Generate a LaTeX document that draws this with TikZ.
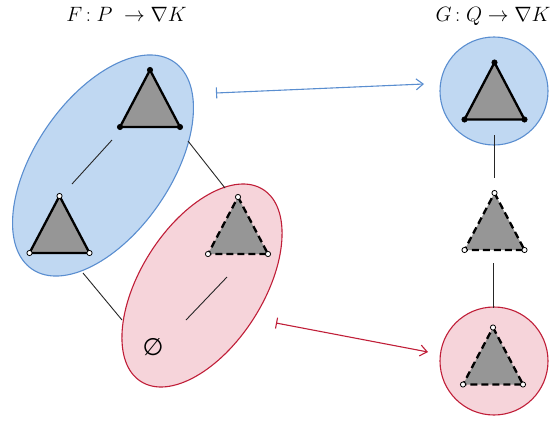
\documentclass[tikz,border=0pt]{standalone}
\usepackage{fontspec}
\newfontfamily\djv{DejaVu Sans}
\usetikzlibrary{arrows.meta}
\definecolor{bfill}{RGB}{192,216,242}
\definecolor{bline}{RGB}{90,142,208}
\definecolor{rfill}{RGB}{246,212,218}
\definecolor{rline}{RGB}{192,30,56}
\definecolor{tgray}{RGB}{150,150,150}
\tikzset{
  bluereg/.style={fill=bfill,draw=bline,line width=1.1pt},
  redreg/.style={fill=rfill,draw=rline,line width=1.1pt},
  link/.style={draw=black!85,line width=0.9pt},
  triedge/.style={line width=2.3pt,line join=round},
  dashedge/.style={dash pattern=on 7pt off 4pt},
  vdot/.style={draw=black,line width=0.8pt},
  maparrow/.style={line width=1.1pt,{Bar[width=11pt]}-{Straight Barb[length=7pt,width=11pt,line width=1.1pt]}},
  title/.style={font=\fontsize{20}{24}\selectfont,inner sep=0pt,anchor=base}
}
\newcommand\mytri[5]{%
  \begin{scope}[shift={(#2,#3)}]
    \coordinate (#1a) at (0,-28.5);
    \coordinate (#1b) at (30,28.5);
    \coordinate (#1c) at (-30,28.5);
    \fill[tgray] (#1a) -- (#1b) -- (#1c) -- cycle;
    \draw[triedge,#4] (#1a) -- (#1b) -- (#1c) -- cycle;
    \foreach \q in {#1a,#1b,#1c} \filldraw[vdot,fill=#5] (\q) circle (2.6pt);
  \end{scope}}
\begin{document}
\begin{tikzpicture}[x=1pt,y=-1pt]
\useasboundingbox (0,0) rectangle (554,423);
% titles
\node[title] (tF) at (126.5,21.5) {$F\,{:}\;P\;\to\nabla K$};
\node[title] (tG) at (493,21.5) {$G\,{:}\;Q\to\nabla K$};
% regions
\draw[bluereg,rotate around={55.6:(103,165.5)}] (103,165.5) ellipse (125.6pt and 68pt);
\draw[redreg,rotate around={57.5:(202,285.5)}] (202,285.5) ellipse (113.8pt and 61.3pt);
\draw[bluereg] (494,91) circle (54pt);
\draw[redreg] (494,361) circle (54pt);
% links
\coordinate (l1a) at (188,141); \coordinate (l1b) at (225,188);
\coordinate (l2a) at (83,273);  \coordinate (l2b) at (122,320);
\coordinate (l3a) at (112,140); \coordinate (l3b) at (72,184);
\coordinate (l4a) at (227,277); \coordinate (l4b) at (186,320);
\coordinate (l5a) at (494.5,135); \coordinate (l5b) at (494.5,178);
\coordinate (l6a) at (493.5,263); \coordinate (l6b) at (493.5,308);
\draw[link] (l1a) -- (l1b);
\draw[link] (l2a) -- (l2b);
\draw[link] (l3a) -- (l3b);
\draw[link] (l4a) -- (l4b);
\draw[link] (l5a) -- (l5b);
\draw[link] (l6a) -- (l6b);
% triangles
\mytri{A}{150}{98.5}{solid}{black}
\mytri{B}{59.5}{224.5}{solid}{white}
\mytri{C}{238}{225.5}{dashedge}{white}
\mytri{D}{494.5}{91}{solid}{black}
\mytri{E}{494.5}{221.5}{dashedge}{white}
\mytri{H}{493}{356}{dashedge}{white}
% empty set
\node[font=\djv\fontsize{24}{28}\selectfont] (es) at (153,347) {∅};
% maps
\coordinate (m1a) at (216,93); \coordinate (m1b) at (424,84);
\coordinate (m2a) at (276,323); \coordinate (m2b) at (428,352);
\draw[maparrow,draw=bline] (m1a) -- (m1b);
\draw[maparrow,draw=rline] (m2a) -- (m2b);
\end{tikzpicture}
\end{document}
